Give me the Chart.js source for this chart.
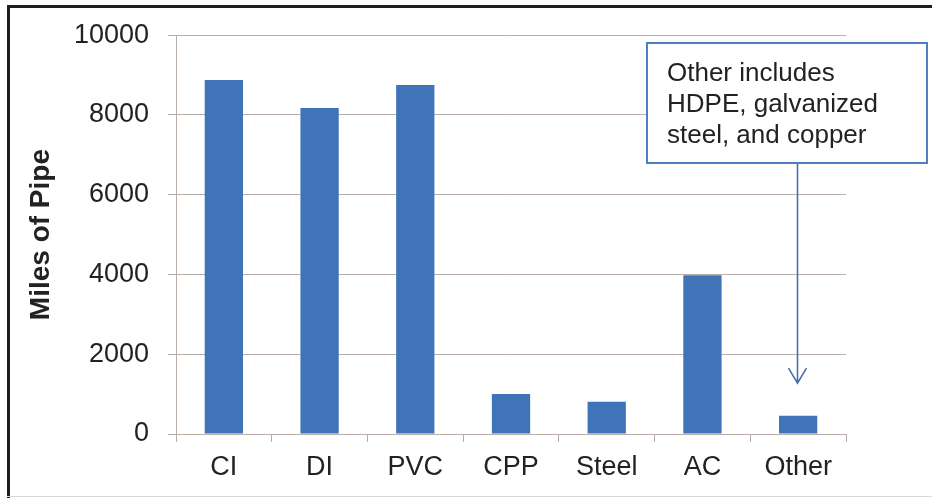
<!DOCTYPE html>
<html>
<head>
<meta charset="utf-8">
<script src="https://cdn.jsdelivr.net/npm/chart.js@4"></script>
<style>
  html, body { margin: 0; padding: 0; background: #fff; }
  #wrap { width: 932px; height: 498px; position: relative; }
</style>
</head>
<body>
<div id="wrap"><canvas id="chart" width="932" height="498"></canvas></div>
<script>
// data
const categories = ['CI', 'DI', 'PVC', 'CPP', 'Steel', 'AC', 'Other'];
const milesOfPipe = [8875, 8175, 8750, 1000, 810, 3980, 460];
const yTicks = [0, 2000, 4000, 6000, 8000, 10000];
const noteLines = ['Other includes', 'HDPE, galvanized', 'steel, and copper'];

const barColor = '#3f74b9';
const gridColor = '#b9afa8';
const textColor = '#222';

// frame + annotation box with arrow to the "Other" bar
const extras = {
  id: 'extras',
  beforeDraw(chart) {
    const ctx = chart.ctx;
    ctx.save();
    ctx.fillStyle = '#fff';
    ctx.fillRect(0, 0, chart.width, chart.height);
    ctx.fillStyle = '#1e1e1e';
    ctx.fillRect(7, 5, chart.width - 7, 3);
    ctx.fillRect(7, 5, 3, chart.height - 5);
    ctx.fillStyle = '#d8d8d8';
    ctx.fillRect(7, chart.height - 2, chart.width - 7, 1);
    ctx.restore();
  },
  afterDraw(chart) {
    const ctx = chart.ctx;
    const x = chart.scales.x;
    const y = chart.scales.y;
    const ax = Math.round(x.getPixelForValue(categories.length - 1)) - 0.5;
    const boxL = 647, boxT = 43, boxR = 927, boxB = 163;

    ctx.save();
    ctx.fillStyle = '#fff';
    ctx.fillRect(boxL, boxT, boxR - boxL, boxB - boxT);
    ctx.strokeStyle = '#4f7fbf';
    ctx.lineWidth = 2;
    ctx.strokeRect(boxL, boxT, boxR - boxL, boxB - boxT);

    ctx.fillStyle = textColor;
    ctx.font = '26px "Liberation Sans", Arial, sans-serif';
    ctx.textBaseline = 'alphabetic';
    noteLines.forEach((t, i) => ctx.fillText(t, 667, 81 + i * 31));

    // arrow
    const tip = y.getPixelForValue(1275);
    ctx.strokeStyle = '#4a6fb0';
    ctx.lineWidth = 1.6;
    ctx.beginPath();
    ctx.moveTo(ax, boxB + 1);
    ctx.lineTo(ax, tip);
    ctx.moveTo(ax - 9, tip - 15);
    ctx.lineTo(ax, tip);
    ctx.lineTo(ax + 9, tip - 15);
    ctx.stroke();
    ctx.restore();
  }
};

const ctx = document.getElementById('chart').getContext('2d');
new Chart(ctx, {
  type: 'bar',
  data: {
    labels: categories,
    datasets: [{
      label: 'Miles of Pipe',
      data: milesOfPipe,
      backgroundColor: barColor,
      borderWidth: 0,
      categoryPercentage: 0.8,
      barPercentage: 0.5
    }]
  },
  options: {
    responsive: false,
    animation: false,
    devicePixelRatio: 1,
    layout: { padding: { left: 0, right: 86, top: 35, bottom: 0 } },
    plugins: {
      legend: { display: false },
      tooltip: { enabled: false }
    },
    scales: {
      x: {
        afterFit(scale) { scale.height = 64; },
        grid: {
          drawOnChartArea: false,
          drawTicks: true,
          tickLength: 8,
          color: gridColor
        },
        border: { color: gridColor, width: 1 },
        ticks: {
          color: textColor,
          padding: 9,
          font: { family: '"Liberation Sans", Arial, sans-serif', size: 27 }
        }
      },
      y: {
        min: 0,
        max: 10000,
        afterFit(scale) { scale.width = 176; },
        afterBuildTicks(scale) { scale.ticks = yTicks.map(v => ({ value: v })); },
        grid: {
          color: gridColor,
          tickLength: 8,
          lineWidth: 1
        },
        border: { color: gridColor, width: 1 },
        ticks: {
          color: textColor,
          padding: 19,
          callback: v => String(v),
          font: { family: '"Liberation Sans", Arial, sans-serif', size: 27 }
        },
        title: {
          display: true,
          text: 'Miles of Pipe',
          color: textColor,
          padding: { top: 24, bottom: 0 },
          font: { family: '"Liberation Sans", Arial, sans-serif', size: 28, weight: 'bold' }
        }
      }
    }
  },
  plugins: [extras]
});
</script>
</body>
</html>
